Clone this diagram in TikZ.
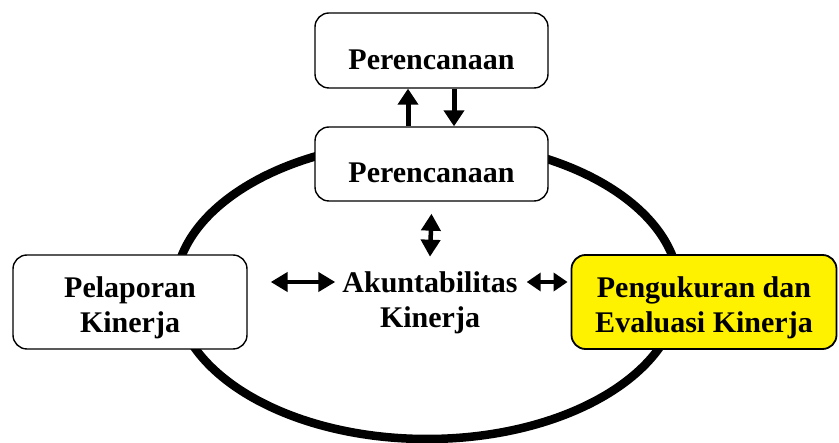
\documentclass[tikz,border=0pt]{standalone}
\usepackage{fontspec}
\setmainfont{Liberation Serif}
\usetikzlibrary{arrows.meta}
\begin{document}
\begin{tikzpicture}[x=1pt,y=-1pt,
  lbl/.style={inner sep=0pt, align=center, font=\fontsize{30}{35}\selectfont\bfseries},
  box/.style={lbl, draw=black, line width=1.4pt, rounded corners=14pt, fill=white},
  onebox/.style={box, minimum width=233pt, minimum height=75pt, text height=38pt, text depth=0pt},
  twobox/.style={box, minimum width=234pt, minimum height=94pt},
  uparr/.style={line width=5pt, -{Triangle[width=20pt,length=16pt]}},
  dbl/.style={line width=4.5pt, {Triangle[width=19pt,length=17pt]}-{Triangle[width=19pt,length=17pt]}},
  sdbl/.style={line width=4.5pt, {Triangle[width=18pt,length=14pt]}-{Triangle[width=18pt,length=14pt]}}
]
\useasboundingbox (0,0) rectangle (839,443);
% ring
\draw[line width=8.5pt] (427,290) ellipse [x radius=252, y radius=149];
% boxes
\node[onebox] (plan1) at (431.5,50.5) {Perencanaan};
\node[onebox, minimum height=74pt] (plan2) at (431.5,164) {Perencanaan};
\node[twobox] (lapor) at (130,302) {\rule{0pt}{31.5pt}Pelaporan\\Kinerja};
\node[twobox, fill=yellow, line width=1.8pt, minimum width=265pt] (ukur) at (704,302) {\rule{0pt}{31.5pt}Pengukuran dan\\Evaluasi Kinerja};
\node[lbl] (akun) at (430,303) {Akuntabilitas\\Kinerja};
% connectors
\draw[uparr] ([xshift=-23.5pt]plan2.north) -- ([xshift=-23.5pt]plan1.south);
\draw[uparr] ([xshift=22.5pt]plan1.south) -- ([xshift=22.5pt]plan2.north);
\draw[dbl] ([yshift=-12pt]plan2.south) -- ([yshift=15pt]akun.north);
\draw[dbl] ([shift={(23,-20)}]lapor.east) -- ([shift={(-7,-21)}]akun.west);
\draw[sdbl] ([shift={(9,-21)}]akun.east) -- ([shift={(-3,-20)}]ukur.west);
\end{tikzpicture}
\end{document}
